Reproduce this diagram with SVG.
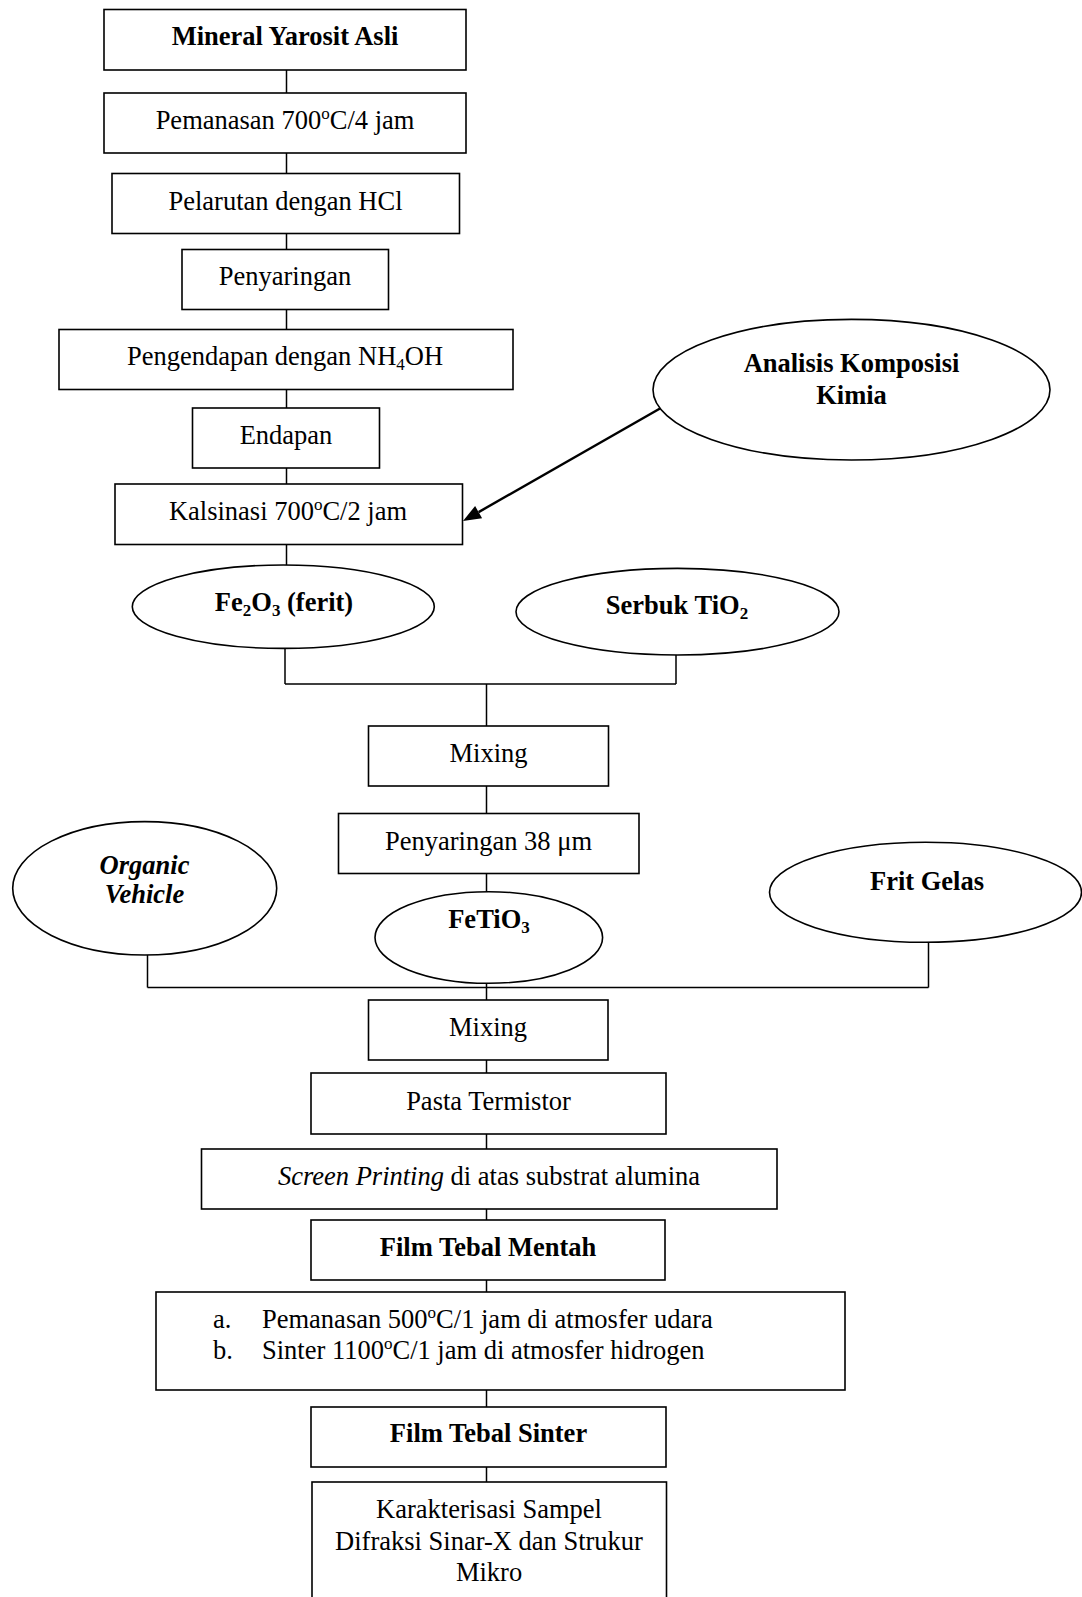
<svg xmlns="http://www.w3.org/2000/svg" width="1082" height="1597" viewBox="0 0 1082 1597">
<style>
.b{fill:#fff;stroke:#000;stroke-width:1.6}
.c{fill:none;stroke:#000;stroke-width:1.5}
.t{font-family:"Liberation Serif","Times New Roman",serif;font-size:26.5px;fill:#000}
.m{text-anchor:middle}
.bd{font-weight:bold}
</style>
<rect width="1082" height="1597" fill="#fff"/>
<g id="connectors">
<path class="c" d="M286.5,70 V93 M286.5,153 V173 M286.5,233 V249 M286.5,309 V329 M286.5,389 V408 M286.5,468 V484 M286.5,544 V565"/>
<path class="c" d="M285,648 V684 M676,655 V684 M285,684 H676 M486.5,684 V726"/>
<path class="c" d="M486.5,786 V813 M486.5,873 V892"/>
<path class="c" d="M147.5,955 V987.5 M928.5,942 V987.5 M147.5,987.5 H928.5 M486.5,983 V1000"/>
<path class="c" d="M486.5,1060 V1073 M486.5,1134 V1149 M486.5,1209 V1220 M486.5,1280 V1292 M486.5,1390 V1407 M486.5,1467 V1482"/>
<line x1="660" y1="408.5" x2="478.6" y2="512.1" stroke="#000" stroke-width="2.4"/>
<polygon points="463,521 475.1,506 482.1,518.2" fill="#000"/>
</g>
<g id="n1"><rect class="b" x="104" y="9.5" width="362" height="60.5"/><text class="t m bd" x="285" y="45">Mineral Yarosit Asli</text></g>
<g id="n2"><rect class="b" x="104" y="93" width="362" height="60"/><text class="t m" x="285" y="128.5">Pemanasan 700<tspan font-size="17" dy="-10">o</tspan><tspan dy="10">C/4 jam</tspan></text></g>
<g id="n3"><rect class="b" x="112" y="173.5" width="347.5" height="60"/><text class="t m" x="285.5" y="209.5">Pelarutan dengan HCl</text></g>
<g id="n4"><rect class="b" x="182" y="249.5" width="206.5" height="60"/><text class="t m" x="285" y="285">Penyaringan</text></g>
<g id="n5"><rect class="b" x="59" y="329.5" width="454" height="60"/><text class="t m" x="285" y="365">Pengendapan dengan NH<tspan font-size="17" dy="5">4</tspan><tspan dy="-5">OH</tspan></text></g>
<g id="n6"><rect class="b" x="192.5" y="408" width="187" height="60"/><text class="t m" x="286" y="443.5">Endapan</text></g>
<g id="n7"><rect class="b" x="115" y="484" width="347.5" height="60.5"/><text class="t m" x="288" y="519.5">Kalsinasi 700<tspan font-size="17" dy="-10">o</tspan><tspan dy="10">C/2 jam</tspan></text></g>
<g id="n8"><ellipse class="b" cx="851.5" cy="389.7" rx="198.5" ry="70.3"/><text class="t m bd" x="851.5" y="372">Analisis Komposisi</text><text class="t m bd" x="851.5" y="404">Kimia</text></g>
<g id="n9"><ellipse class="b" cx="283.3" cy="606.7" rx="151" ry="41.7"/><text class="t m bd" x="284" y="611">Fe<tspan font-size="17" dy="5">2</tspan><tspan dy="-5">O</tspan><tspan font-size="17" dy="5">3</tspan><tspan dy="-5"> (ferit)</tspan></text></g>
<g id="n10"><ellipse class="b" cx="677.5" cy="611.7" rx="161.5" ry="43.3"/><text class="t m bd" x="677" y="614">Serbuk TiO<tspan font-size="17" dy="5">2</tspan></text></g>
<g id="n11"><rect class="b" x="368.5" y="726" width="240" height="60"/><text class="t m" x="488.5" y="762">Mixing</text></g>
<g id="n12"><rect class="b" x="338.5" y="813.5" width="300.5" height="60"/><text class="t m" x="488.5" y="850">Penyaringan 38 μm</text></g>
<g id="n13"><ellipse class="b" cx="144.7" cy="888.3" rx="132" ry="66.7"/><text class="t m bd" x="144.5" y="874" font-style="italic">Organic</text><text class="t m bd" x="144.5" y="903" font-style="italic">Vehicle</text></g>
<g id="n14"><ellipse class="b" cx="488.8" cy="937.5" rx="113.8" ry="45.8"/><text class="t m bd" x="489" y="928">FeTiO<tspan font-size="17" dy="5">3</tspan></text></g>
<g id="n15"><ellipse class="b" cx="925.5" cy="892.3" rx="156" ry="50"/><text class="t m bd" x="927" y="890">Frit Gelas</text></g>
<g id="n16"><rect class="b" x="368.5" y="1000" width="239.5" height="60"/><text class="t m" x="488" y="1036">Mixing</text></g>
<g id="n17"><rect class="b" x="311" y="1073" width="355" height="61"/><text class="t m" x="488.5" y="1110">Pasta Termistor</text></g>
<g id="n18"><rect class="b" x="201.5" y="1149" width="575.5" height="60"/><text class="t m" x="489" y="1185"><tspan font-style="italic">Screen Printing</tspan> di atas substrat alumina</text></g>
<g id="n19"><rect class="b" x="311" y="1220" width="354" height="60"/><text class="t m bd" x="488" y="1256">Film Tebal Mentah</text></g>
<g id="n20"><rect class="b" x="156" y="1292" width="689" height="98"/>
<text class="t" x="213" y="1328">a.</text><text class="t" x="262" y="1328">Pemanasan 500<tspan font-size="17" dy="-10">o</tspan><tspan dy="10">C/1 jam di atmosfer udara</tspan></text>
<text class="t" x="213" y="1359">b.</text><text class="t" x="262" y="1359">Sinter 1100<tspan font-size="17" dy="-10">o</tspan><tspan dy="10">C/1 jam di atmosfer hidrogen</tspan></text></g>
<g id="n21"><rect class="b" x="311" y="1407" width="355" height="60"/><text class="t m bd" x="488.5" y="1442">Film Tebal Sinter</text></g>
<g id="n22"><rect class="b" x="312" y="1482" width="354.5" height="130"/><text class="t m" x="489" y="1518">Karakterisasi Sampel</text><text class="t m" x="489" y="1549.5">Difraksi Sinar-X dan Strukur</text><text class="t m" x="489" y="1581">Mikro</text></g>
</svg>
